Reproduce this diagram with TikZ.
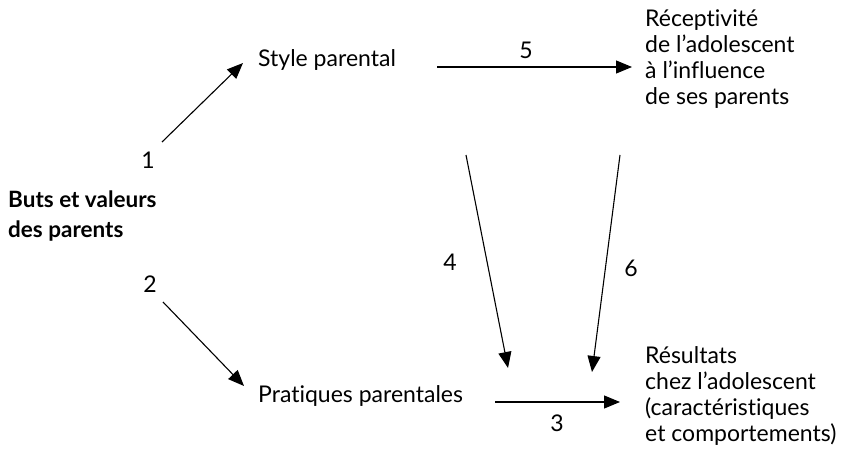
\documentclass[tikz,border=0pt]{standalone}
\usepackage{fontspec}
\setmainfont{Lato}[Ligatures=NoCommon]
\usetikzlibrary{arrows.meta}
\begin{document}
\begin{tikzpicture}[x=1pt,y=-1pt,
  lbl/.style={font=\fontsize{23}{26}\selectfont, inner sep=0pt, align=left},
  num/.style={font=\fontsize{23}{26}\selectfont, inner sep=0pt},
  conn/.style={line width=1.1pt, -{Triangle[length=16pt,width=13pt]}}]
\useasboundingbox (0,0) rectangle (841,460);
\node[lbl, font=\fontsize{22.5}{30}\selectfont\bfseries, anchor=north west] (buts) at (8,191) {Buts et valeurs\\des parents};
\node[lbl, anchor=west] (style) at (258,60) {Style parental};
\node[lbl, anchor=west] (prat) at (258,396) {Pratiques parentales};
\node[lbl, anchor=north west] (recep) at (645,10) {Réceptivité\\de l’adolescent\\à l’influence\\de ses parents};
\node[lbl, anchor=north west] (resu) at (645,346) {Résultats\\chez l’adolescent\\(caractéristiques\\et comportements)};
\coordinate (a1s) at (162,142); \coordinate (a1e) at (243,63);
\coordinate (a2s) at (163,302); \coordinate (a2e) at (244,386);
\coordinate (a5s) at (437,67); \coordinate (a5e) at (632,67);
\coordinate (a3s) at (495,402); \coordinate (a3e) at (620,402);
\coordinate (a4s) at (466,155); \coordinate (a4e) at (508,368);
\coordinate (a6s) at (620,155); \coordinate (a6e) at (592,372);
\draw[conn] (a1s) -- (a1e);
\draw[conn] (a2s) -- (a2e);
\draw[conn] (a5s) -- (a5e);
\draw[conn] (a3s) -- (a3e);
\draw[conn] (a4s) -- (a4e);
\draw[conn] (a6s) -- (a6e);
\node[num] (n1) at (148,160) {1};
\node[num] (n2) at (150,284) {2};
\node[num] (n5) at (526,50) {5};
\node[num] (n3) at (557,423) {3};
\node[num] (n4) at (450,262) {4};
\node[num] (n6) at (631,268) {6};
\end{tikzpicture}
\end{document}
